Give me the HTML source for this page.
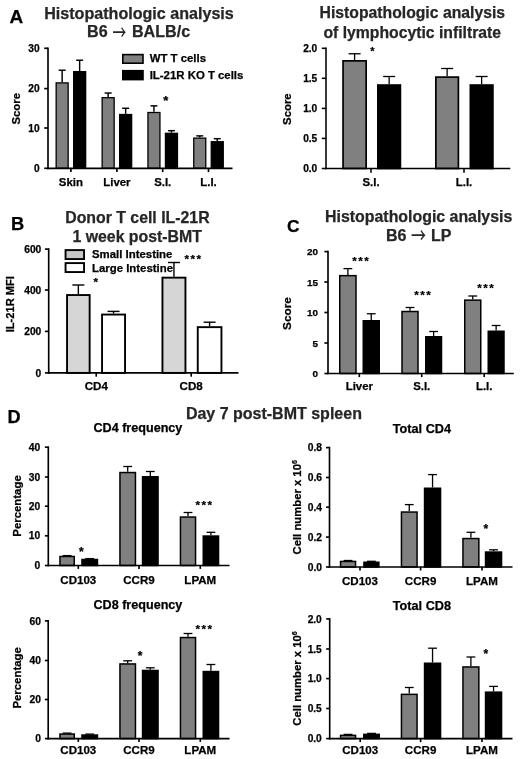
<!DOCTYPE html>
<html lang="en"><head><meta charset="utf-8"><title>Figure</title>
<style>
html,body{margin:0;padding:0;background:#fff;}
body{width:520px;height:759px;overflow:hidden;}
svg{display:block;font-family:"Liberation Sans", Arial, Helvetica, sans-serif;}
</style></head><body>
<svg width="520" height="759" viewBox="0 0 520 759">
<defs><pattern id="dots" width="2" height="2" patternUnits="userSpaceOnUse"><rect width="2" height="2" fill="#dcdcdc"/><rect width="1" height="1" fill="#c4c4c4"/></pattern></defs>
<rect width="520" height="759" fill="#fff"/>
<text x="9.5" y="22.5" font-size="19" text-anchor="start" fill="#000" stroke="#000" stroke-width="0.25" font-weight="bold">A</text>
<text x="139.0" y="18.8" font-size="16.1" text-anchor="middle" fill="#262626" stroke="#262626" stroke-width="0.25" font-weight="bold">Histopathologic analysis</text>
<text x="107.6" y="36.9" font-size="16.1" text-anchor="end" fill="#262626" stroke="#262626" stroke-width="0.25" font-weight="bold">B6</text>
<text transform="translate(112.55 39.83) scale(0.667 1)" font-family="'Noto Sans CJK SC', 'DejaVu Sans', sans-serif" font-weight="500" font-size="20.6" fill="#262626">→</text>
<text x="132.0" y="36.9" font-size="16.1" text-anchor="start" fill="#262626" stroke="#262626" stroke-width="0.25" font-weight="bold">BALB/c</text>
<line x1="62.150000000000006" y1="82.24" x2="62.150000000000006" y2="70.23" stroke="#000" stroke-width="1.45"/>
<line x1="58.650000000000006" y1="70.23" x2="65.65" y2="70.23" stroke="#000" stroke-width="1.45"/>
<rect x="56.15" y="82.89" width="12.0" height="85.41" fill="#808080" stroke="#000" stroke-width="1.3"/>
<line x1="79.65" y1="71.03" x2="79.65" y2="60.22" stroke="#000" stroke-width="1.45"/>
<line x1="76.15" y1="60.22" x2="83.15" y2="60.22" stroke="#000" stroke-width="1.45"/>
<rect x="73.65" y="71.68" width="12.0" height="96.62" fill="#000" stroke="#000" stroke-width="1.3"/>
<line x1="108.15" y1="97.05" x2="108.15" y2="93.04" stroke="#000" stroke-width="1.45"/>
<line x1="104.65" y1="93.04" x2="111.65" y2="93.04" stroke="#000" stroke-width="1.45"/>
<rect x="102.15" y="97.7" width="12.0" height="70.6" fill="#808080" stroke="#000" stroke-width="1.3"/>
<line x1="125.65" y1="113.86" x2="125.65" y2="108.26" stroke="#000" stroke-width="1.45"/>
<line x1="122.15" y1="108.26" x2="129.15" y2="108.26" stroke="#000" stroke-width="1.45"/>
<rect x="119.65" y="114.51" width="12.0" height="53.79" fill="#000" stroke="#000" stroke-width="1.3"/>
<line x1="153.95" y1="111.86" x2="153.95" y2="105.85" stroke="#000" stroke-width="1.45"/>
<line x1="150.45" y1="105.85" x2="157.45" y2="105.85" stroke="#000" stroke-width="1.45"/>
<rect x="147.95" y="112.51" width="12.0" height="55.79" fill="#808080" stroke="#000" stroke-width="1.3"/>
<line x1="171.45" y1="132.67" x2="171.45" y2="130.67" stroke="#000" stroke-width="1.45"/>
<line x1="167.95" y1="130.67" x2="174.95" y2="130.67" stroke="#000" stroke-width="1.45"/>
<rect x="165.45" y="133.32" width="12.0" height="34.98" fill="#000" stroke="#000" stroke-width="1.3"/>
<line x1="199.75" y1="137.48" x2="199.75" y2="135.88" stroke="#000" stroke-width="1.45"/>
<line x1="196.25" y1="135.88" x2="203.25" y2="135.88" stroke="#000" stroke-width="1.45"/>
<rect x="193.75" y="138.13" width="12.0" height="30.17" fill="#808080" stroke="#000" stroke-width="1.3"/>
<line x1="217.25" y1="141.08" x2="217.25" y2="138.68" stroke="#000" stroke-width="1.45"/>
<line x1="213.75" y1="138.68" x2="220.75" y2="138.68" stroke="#000" stroke-width="1.45"/>
<rect x="211.25" y="141.73" width="12.0" height="26.57" fill="#000" stroke="#000" stroke-width="1.3"/>
<line x1="48.0" y1="47.474999999999994" x2="48.0" y2="169.125" stroke="#000" stroke-width="1.65"/>
<line x1="47.175" y1="168.3" x2="232.5" y2="168.3" stroke="#000" stroke-width="1.65"/>
<line x1="44.2" y1="48.3" x2="48.0" y2="48.3" stroke="#000" stroke-width="1.65"/>
<text x="39.6" y="51.95" font-size="10.2" text-anchor="end" fill="#000" stroke="#000" stroke-width="0.25" font-weight="bold">30</text>
<line x1="44.2" y1="88.6" x2="48.0" y2="88.6" stroke="#000" stroke-width="1.65"/>
<text x="39.6" y="92.25" font-size="10.2" text-anchor="end" fill="#000" stroke="#000" stroke-width="0.25" font-weight="bold">20</text>
<line x1="44.2" y1="128.0" x2="48.0" y2="128.0" stroke="#000" stroke-width="1.65"/>
<text x="39.6" y="131.65" font-size="10.2" text-anchor="end" fill="#000" stroke="#000" stroke-width="0.25" font-weight="bold">10</text>
<line x1="44.2" y1="168.3" x2="48.0" y2="168.3" stroke="#000" stroke-width="1.65"/>
<text x="39.6" y="171.95" font-size="10.2" text-anchor="end" fill="#000" stroke="#000" stroke-width="0.25" font-weight="bold">0</text>
<line x1="70.9" y1="168.3" x2="70.9" y2="172.10000000000002" stroke="#000" stroke-width="1.65"/>
<text x="70.9" y="186.2" font-size="11.4" text-anchor="middle" fill="#000" stroke="#000" stroke-width="0.25" font-weight="bold">Skin</text>
<line x1="116.9" y1="168.3" x2="116.9" y2="172.10000000000002" stroke="#000" stroke-width="1.65"/>
<text x="116.9" y="186.2" font-size="11.4" text-anchor="middle" fill="#000" stroke="#000" stroke-width="0.25" font-weight="bold">Liver</text>
<line x1="162.7" y1="168.3" x2="162.7" y2="172.10000000000002" stroke="#000" stroke-width="1.65"/>
<text x="162.7" y="186.2" font-size="11.4" text-anchor="middle" fill="#000" stroke="#000" stroke-width="0.25" font-weight="bold">S.I.</text>
<line x1="208.5" y1="168.3" x2="208.5" y2="172.10000000000002" stroke="#000" stroke-width="1.65"/>
<text x="208.5" y="186.2" font-size="11.4" text-anchor="middle" fill="#000" stroke="#000" stroke-width="0.25" font-weight="bold">L.I.</text>
<text x="19.6" y="108.75" font-size="11.4" text-anchor="middle" fill="#000" stroke="#000" stroke-width="0.25" font-weight="bold" transform="rotate(-90 19.6 108.75)">Score</text>
<rect x="122.8" y="54.6" width="20.2" height="8.6" fill="#808080" stroke="#000" stroke-width="1.6"/>
<text x="149.7" y="62.3" font-size="11.4" text-anchor="start" fill="#000" stroke="#000" stroke-width="0.25" font-weight="bold">WT T cells</text>
<rect x="122.8" y="70.7" width="20.2" height="8.9" fill="#000" stroke="#000" stroke-width="1.6"/>
<text x="149.7" y="79.3" font-size="11.4" text-anchor="start" fill="#000" stroke="#000" stroke-width="0.25" font-weight="bold">IL-21R KO T cells</text>
<text x="165.75" y="105.25" font-size="13" text-anchor="middle" fill="#000" stroke="#000" stroke-width="0.25" font-weight="bold">*</text>
<text x="412.3" y="18.2" font-size="15.75" text-anchor="middle" fill="#262626" stroke="#262626" stroke-width="0.25" font-weight="bold">Histopathologic analysis</text>
<text x="412.3" y="37.6" font-size="15.75" text-anchor="middle" fill="#262626" stroke="#262626" stroke-width="0.25" font-weight="bold">of lymphocytic infiltrate</text>
<line x1="354.6" y1="60" x2="354.6" y2="53.75" stroke="#000" stroke-width="1.3"/>
<line x1="348.6" y1="53.75" x2="360.6" y2="53.75" stroke="#000" stroke-width="1.3"/>
<rect x="343.05" y="60.85" width="23.1" height="107.65" fill="#808080" stroke="#000" stroke-width="1.7"/>
<line x1="389.125" y1="84.2" x2="389.125" y2="76.5" stroke="#000" stroke-width="1.3"/>
<line x1="383.125" y1="76.5" x2="395.125" y2="76.5" stroke="#000" stroke-width="1.3"/>
<rect x="377.85" y="85.05" width="22.55" height="83.45" fill="#000" stroke="#000" stroke-width="1.7"/>
<line x1="447.125" y1="76.25" x2="447.125" y2="68.5" stroke="#000" stroke-width="1.3"/>
<line x1="441.125" y1="68.5" x2="453.125" y2="68.5" stroke="#000" stroke-width="1.3"/>
<rect x="435.85" y="77.1" width="22.55" height="91.4" fill="#808080" stroke="#000" stroke-width="1.7"/>
<line x1="481.625" y1="84.2" x2="481.625" y2="76.5" stroke="#000" stroke-width="1.3"/>
<line x1="475.625" y1="76.5" x2="487.625" y2="76.5" stroke="#000" stroke-width="1.3"/>
<rect x="470.35" y="85.05" width="22.55" height="83.45" fill="#000" stroke="#000" stroke-width="1.7"/>
<line x1="326" y1="47.525" x2="326" y2="169.275" stroke="#000" stroke-width="1.55"/>
<line x1="325.225" y1="168.5" x2="510.3" y2="168.5" stroke="#000" stroke-width="1.55"/>
<line x1="321.8" y1="48.3" x2="326" y2="48.3" stroke="#000" stroke-width="1.55"/>
<text x="317.3" y="51.95" font-size="10.2" text-anchor="end" fill="#000" stroke="#000" stroke-width="0.25" font-weight="bold">2.0</text>
<line x1="321.8" y1="78.3" x2="326" y2="78.3" stroke="#000" stroke-width="1.55"/>
<text x="317.3" y="81.95" font-size="10.2" text-anchor="end" fill="#000" stroke="#000" stroke-width="0.25" font-weight="bold">1.5</text>
<line x1="321.8" y1="108.4" x2="326" y2="108.4" stroke="#000" stroke-width="1.55"/>
<text x="317.3" y="112.05" font-size="10.2" text-anchor="end" fill="#000" stroke="#000" stroke-width="0.25" font-weight="bold">1.0</text>
<line x1="321.8" y1="138.4" x2="326" y2="138.4" stroke="#000" stroke-width="1.55"/>
<text x="317.3" y="142.05" font-size="10.2" text-anchor="end" fill="#000" stroke="#000" stroke-width="0.25" font-weight="bold">0.5</text>
<line x1="321.8" y1="168.5" x2="326" y2="168.5" stroke="#000" stroke-width="1.55"/>
<text x="317.3" y="172.15" font-size="10.2" text-anchor="end" fill="#000" stroke="#000" stroke-width="0.25" font-weight="bold">0.0</text>
<line x1="371" y1="168.5" x2="371" y2="172.7" stroke="#000" stroke-width="1.55"/>
<text x="371" y="186" font-size="11.4" text-anchor="middle" fill="#000" stroke="#000" stroke-width="0.25" font-weight="bold">S.I.</text>
<line x1="464" y1="168.5" x2="464" y2="172.7" stroke="#000" stroke-width="1.55"/>
<text x="464" y="186" font-size="11.4" text-anchor="middle" fill="#000" stroke="#000" stroke-width="0.25" font-weight="bold">L.I.</text>
<text x="372.5" y="54.75" font-size="11" text-anchor="middle" fill="#000" stroke="#000" stroke-width="0.25" font-weight="bold">*</text>
<text x="290.6" y="109.1" font-size="11.4" text-anchor="middle" fill="#000" stroke="#000" stroke-width="0.25" font-weight="bold" transform="rotate(-90 290.6 109.1)">Score</text>
<text x="11.1" y="230" font-size="18.3" text-anchor="start" fill="#000" stroke="#000" stroke-width="0.25" font-weight="bold">B</text>
<text x="137.4" y="222.7" font-size="15.85" text-anchor="middle" fill="#262626" stroke="#262626" stroke-width="0.25" font-weight="bold">Donor T cell IL-21R</text>
<text x="137.2" y="242.1" font-size="15.85" text-anchor="middle" fill="#262626" stroke="#262626" stroke-width="0.25" font-weight="bold">1 week post-BMT</text>
<line x1="78.35" y1="294.1" x2="78.35" y2="285" stroke="#000" stroke-width="1.4"/>
<line x1="72.35" y1="285" x2="84.35" y2="285" stroke="#000" stroke-width="1.4"/>
<rect x="67.05" y="295.05" width="22.6" height="77.85" fill="#d6d6d6" stroke="#000" stroke-width="1.9"/>
<line x1="113.55" y1="313.6" x2="113.55" y2="311.4" stroke="#000" stroke-width="1.4"/>
<line x1="107.55" y1="311.4" x2="119.55" y2="311.4" stroke="#000" stroke-width="1.4"/>
<rect x="102.05" y="314.55" width="23.0" height="58.35" fill="#fff" stroke="#000" stroke-width="1.9"/>
<line x1="173.95" y1="276.7" x2="173.95" y2="262.5" stroke="#000" stroke-width="1.4"/>
<line x1="167.95" y1="262.5" x2="179.95" y2="262.5" stroke="#000" stroke-width="1.4"/>
<rect x="162.45" y="277.65" width="23.0" height="95.25" fill="#d6d6d6" stroke="#000" stroke-width="1.9"/>
<line x1="209.60000000000002" y1="326.2" x2="209.60000000000002" y2="322.2" stroke="#000" stroke-width="1.4"/>
<line x1="203.60000000000002" y1="322.2" x2="215.60000000000002" y2="322.2" stroke="#000" stroke-width="1.4"/>
<rect x="197.75" y="327.15" width="23.7" height="45.75" fill="#fff" stroke="#000" stroke-width="1.9"/>
<line x1="48.7" y1="248.275" x2="48.7" y2="373.72499999999997" stroke="#000" stroke-width="1.65"/>
<line x1="47.875" y1="372.9" x2="238.5" y2="372.9" stroke="#000" stroke-width="1.65"/>
<line x1="44.900000000000006" y1="249.1" x2="48.7" y2="249.1" stroke="#000" stroke-width="1.65"/>
<text x="41.3" y="252.77" font-size="10.25" text-anchor="end" fill="#000" stroke="#000" stroke-width="0.25" font-weight="bold">600</text>
<line x1="44.900000000000006" y1="290" x2="48.7" y2="290" stroke="#000" stroke-width="1.65"/>
<text x="41.3" y="293.67" font-size="10.25" text-anchor="end" fill="#000" stroke="#000" stroke-width="0.25" font-weight="bold">400</text>
<line x1="44.900000000000006" y1="331.4" x2="48.7" y2="331.4" stroke="#000" stroke-width="1.65"/>
<text x="41.3" y="335.07" font-size="10.25" text-anchor="end" fill="#000" stroke="#000" stroke-width="0.25" font-weight="bold">200</text>
<line x1="44.900000000000006" y1="372.9" x2="48.7" y2="372.9" stroke="#000" stroke-width="1.65"/>
<text x="41.3" y="376.57" font-size="10.25" text-anchor="end" fill="#000" stroke="#000" stroke-width="0.25" font-weight="bold">0</text>
<line x1="96.25" y1="372.9" x2="96.25" y2="376.7" stroke="#000" stroke-width="1.65"/>
<text x="96.25" y="389.6" font-size="11.6" text-anchor="middle" fill="#000" stroke="#000" stroke-width="0.25" font-weight="bold">CD4</text>
<line x1="191.2" y1="372.9" x2="191.2" y2="376.7" stroke="#000" stroke-width="1.65"/>
<text x="191.2" y="389.6" font-size="11.6" text-anchor="middle" fill="#000" stroke="#000" stroke-width="0.25" font-weight="bold">CD8</text>
<text x="13.6" y="304.2" font-size="11.1" text-anchor="middle" fill="#000" stroke="#000" stroke-width="0.25" font-weight="bold" transform="rotate(-90 13.6 304.2)">IL-21R MFI</text>
<rect x="65.55" y="250.1" width="18.5" height="8.95" fill="#c6c6c6" stroke="#000" stroke-width="1.9"/>
<text x="92" y="258.3" font-size="11.4" text-anchor="start" fill="#000" stroke="#000" stroke-width="0.25" font-weight="bold">Small Intestine</text>
<rect x="65.55" y="263.1" width="18.5" height="8.95" fill="#fff" stroke="#000" stroke-width="1.9"/>
<text x="92" y="272" font-size="11.4" text-anchor="start" fill="#000" stroke="#000" stroke-width="0.25" font-weight="bold">Large Intestine</text>
<text x="95.75" y="286.2" font-size="11.5" text-anchor="middle" fill="#000" stroke="#000" stroke-width="0.25" font-weight="bold">*</text>
<text x="193.5" y="262.5" font-size="11.6" text-anchor="middle" fill="#000" stroke="#000" stroke-width="0.25" font-weight="bold" letter-spacing="1.5">***</text>
<text x="287" y="231.7" font-size="17.4" text-anchor="start" fill="#000" stroke="#000" stroke-width="0.25" font-weight="bold">C</text>
<text x="418.7" y="221.8" font-size="15.9" text-anchor="middle" fill="#262626" stroke="#262626" stroke-width="0.25" font-weight="bold">Histopathologic analysis</text>
<text x="406.4" y="241.4" font-size="16" text-anchor="end" fill="#262626" stroke="#262626" stroke-width="0.25" font-weight="bold">B6</text>
<text transform="translate(411.10 243.33) scale(0.731 1)" font-family="'Noto Sans CJK SC', 'DejaVu Sans', sans-serif" font-weight="500" font-size="20.6" fill="#262626">→</text>
<text x="431" y="241.4" font-size="16" text-anchor="start" fill="#262626" stroke="#262626" stroke-width="0.25" font-weight="bold">LP</text>
<line x1="347.875" y1="274.9" x2="347.875" y2="268.6" stroke="#000" stroke-width="1.3"/>
<line x1="343.475" y1="268.6" x2="352.275" y2="268.6" stroke="#000" stroke-width="1.3"/>
<rect x="339.75" y="275.65" width="16.25" height="97.85" fill="#808080" stroke="#000" stroke-width="1.5"/>
<line x1="371.25" y1="320" x2="371.25" y2="313.75" stroke="#000" stroke-width="1.3"/>
<line x1="366.85" y1="313.75" x2="375.65" y2="313.75" stroke="#000" stroke-width="1.3"/>
<rect x="363.25" y="320.75" width="16.0" height="52.75" fill="#000" stroke="#000" stroke-width="1.5"/>
<line x1="410.0" y1="310.75" x2="410.0" y2="307.5" stroke="#000" stroke-width="1.3"/>
<line x1="405.6" y1="307.5" x2="414.4" y2="307.5" stroke="#000" stroke-width="1.3"/>
<rect x="402.0" y="311.5" width="16.0" height="62.0" fill="#808080" stroke="#000" stroke-width="1.5"/>
<line x1="433.625" y1="336" x2="433.625" y2="331.5" stroke="#000" stroke-width="1.3"/>
<line x1="429.225" y1="331.5" x2="438.025" y2="331.5" stroke="#000" stroke-width="1.3"/>
<rect x="425.75" y="336.75" width="15.75" height="36.75" fill="#000" stroke="#000" stroke-width="1.5"/>
<line x1="472.75" y1="299.4" x2="472.75" y2="296" stroke="#000" stroke-width="1.3"/>
<line x1="468.35" y1="296" x2="477.15" y2="296" stroke="#000" stroke-width="1.3"/>
<rect x="464.75" y="300.15" width="16.0" height="73.35" fill="#808080" stroke="#000" stroke-width="1.5"/>
<line x1="496.125" y1="330.5" x2="496.125" y2="325.5" stroke="#000" stroke-width="1.3"/>
<line x1="491.725" y1="325.5" x2="500.525" y2="325.5" stroke="#000" stroke-width="1.3"/>
<rect x="488.25" y="331.25" width="15.75" height="42.25" fill="#000" stroke="#000" stroke-width="1.5"/>
<line x1="328" y1="250.775" x2="328" y2="374.325" stroke="#000" stroke-width="1.65"/>
<line x1="327.175" y1="373.5" x2="513.8" y2="373.5" stroke="#000" stroke-width="1.65"/>
<line x1="324.4" y1="251.6" x2="328" y2="251.6" stroke="#000" stroke-width="1.65"/>
<text x="317.9" y="255.14" font-size="9.9" text-anchor="end" fill="#000" stroke="#000" stroke-width="0.25" font-weight="bold">20</text>
<line x1="324.4" y1="282" x2="328" y2="282" stroke="#000" stroke-width="1.65"/>
<text x="317.9" y="285.54" font-size="9.9" text-anchor="end" fill="#000" stroke="#000" stroke-width="0.25" font-weight="bold">15</text>
<line x1="324.4" y1="312.5" x2="328" y2="312.5" stroke="#000" stroke-width="1.65"/>
<text x="317.9" y="316.04" font-size="9.9" text-anchor="end" fill="#000" stroke="#000" stroke-width="0.25" font-weight="bold">10</text>
<line x1="324.4" y1="343" x2="328" y2="343" stroke="#000" stroke-width="1.65"/>
<text x="317.9" y="346.54" font-size="9.9" text-anchor="end" fill="#000" stroke="#000" stroke-width="0.25" font-weight="bold">5</text>
<line x1="324.4" y1="373.5" x2="328" y2="373.5" stroke="#000" stroke-width="1.65"/>
<text x="317.9" y="377.04" font-size="9.9" text-anchor="end" fill="#000" stroke="#000" stroke-width="0.25" font-weight="bold">0</text>
<line x1="359.3" y1="373.5" x2="359.3" y2="377.1" stroke="#000" stroke-width="1.65"/>
<text x="359.3" y="390.2" font-size="11.4" text-anchor="middle" fill="#000" stroke="#000" stroke-width="0.25" font-weight="bold">Liver</text>
<line x1="421.7" y1="373.5" x2="421.7" y2="377.1" stroke="#000" stroke-width="1.65"/>
<text x="421.7" y="390.2" font-size="11.4" text-anchor="middle" fill="#000" stroke="#000" stroke-width="0.25" font-weight="bold">S.I.</text>
<line x1="484.2" y1="373.5" x2="484.2" y2="377.1" stroke="#000" stroke-width="1.65"/>
<text x="484.2" y="390.2" font-size="11.4" text-anchor="middle" fill="#000" stroke="#000" stroke-width="0.25" font-weight="bold">L.I.</text>
<text x="291" y="313.5" font-size="11.8" text-anchor="middle" fill="#000" stroke="#000" stroke-width="0.25" font-weight="bold" transform="rotate(-90 291 313.5)">Score</text>
<text x="361.35" y="265.0" font-size="11.6" text-anchor="middle" fill="#000" stroke="#000" stroke-width="0.25" font-weight="bold" letter-spacing="1.5">***</text>
<text x="423.25" y="298.75" font-size="11.6" text-anchor="middle" fill="#000" stroke="#000" stroke-width="0.25" font-weight="bold" letter-spacing="1.5">***</text>
<text x="486.15" y="292.0" font-size="11.6" text-anchor="middle" fill="#000" stroke="#000" stroke-width="0.25" font-weight="bold" letter-spacing="1.5">***</text>
<text x="7.6" y="423.3" font-size="18.1" text-anchor="start" fill="#000" stroke="#000" stroke-width="0.25" font-weight="bold">D</text>
<text x="273.9" y="419" font-size="16" text-anchor="middle" fill="#262626" stroke="#262626" stroke-width="0.25" font-weight="bold">Day 7 post-BMT spleen</text>
<text x="137.9" y="432.4" font-size="12.6" text-anchor="middle" fill="#000" stroke="#000" stroke-width="0.25" font-weight="bold">CD4 frequency</text>
<line x1="67.1" y1="555.75" x2="67.1" y2="555.6" stroke="#000" stroke-width="1.3"/>
<line x1="62.699999999999996" y1="555.6" x2="71.5" y2="555.6" stroke="#000" stroke-width="1.3"/>
<rect x="59.95" y="556.5" width="14.3" height="9.0" fill="#808080" stroke="#000" stroke-width="1.5"/>
<line x1="89.7" y1="558.75" x2="89.7" y2="558.6" stroke="#000" stroke-width="1.3"/>
<line x1="85.3" y1="558.6" x2="94.10000000000001" y2="558.6" stroke="#000" stroke-width="1.3"/>
<rect x="81.95" y="559.5" width="15.5" height="6.0" fill="#000" stroke="#000" stroke-width="1.5"/>
<line x1="127.69999999999999" y1="471.8" x2="127.69999999999999" y2="466.5" stroke="#000" stroke-width="1.3"/>
<line x1="123.29999999999998" y1="466.5" x2="132.1" y2="466.5" stroke="#000" stroke-width="1.3"/>
<rect x="119.95" y="472.55" width="15.5" height="92.95" fill="#808080" stroke="#000" stroke-width="1.5"/>
<line x1="150.3" y1="476" x2="150.3" y2="471.5" stroke="#000" stroke-width="1.3"/>
<line x1="145.9" y1="471.5" x2="154.70000000000002" y2="471.5" stroke="#000" stroke-width="1.3"/>
<rect x="142.55" y="476.75" width="15.5" height="88.75" fill="#000" stroke="#000" stroke-width="1.5"/>
<line x1="188.0" y1="516.3" x2="188.0" y2="512.5" stroke="#000" stroke-width="1.3"/>
<line x1="183.6" y1="512.5" x2="192.4" y2="512.5" stroke="#000" stroke-width="1.3"/>
<rect x="180.45" y="517.05" width="15.1" height="48.45" fill="#808080" stroke="#000" stroke-width="1.5"/>
<line x1="210.9" y1="535.3" x2="210.9" y2="532.3" stroke="#000" stroke-width="1.3"/>
<line x1="206.5" y1="532.3" x2="215.3" y2="532.3" stroke="#000" stroke-width="1.3"/>
<rect x="203.25" y="536.05" width="15.3" height="29.45" fill="#000" stroke="#000" stroke-width="1.5"/>
<line x1="48.3" y1="446.375" x2="48.3" y2="566.325" stroke="#000" stroke-width="1.65"/>
<line x1="47.474999999999994" y1="565.5" x2="229.5" y2="565.5" stroke="#000" stroke-width="1.65"/>
<line x1="44.9" y1="447.2" x2="48.3" y2="447.2" stroke="#000" stroke-width="1.65"/>
<text x="40.3" y="450.89" font-size="10.3" text-anchor="end" fill="#000" stroke="#000" stroke-width="0.25" font-weight="bold">40</text>
<line x1="44.9" y1="477" x2="48.3" y2="477" stroke="#000" stroke-width="1.65"/>
<text x="40.3" y="480.69" font-size="10.3" text-anchor="end" fill="#000" stroke="#000" stroke-width="0.25" font-weight="bold">30</text>
<line x1="44.9" y1="506.2" x2="48.3" y2="506.2" stroke="#000" stroke-width="1.65"/>
<text x="40.3" y="509.89" font-size="10.3" text-anchor="end" fill="#000" stroke="#000" stroke-width="0.25" font-weight="bold">20</text>
<line x1="44.9" y1="535.8" x2="48.3" y2="535.8" stroke="#000" stroke-width="1.65"/>
<text x="40.3" y="539.49" font-size="10.3" text-anchor="end" fill="#000" stroke="#000" stroke-width="0.25" font-weight="bold">10</text>
<line x1="44.9" y1="565.5" x2="48.3" y2="565.5" stroke="#000" stroke-width="1.65"/>
<text x="40.3" y="569.19" font-size="10.3" text-anchor="end" fill="#000" stroke="#000" stroke-width="0.25" font-weight="bold">0</text>
<line x1="78.3" y1="565.5" x2="78.3" y2="568.9" stroke="#000" stroke-width="1.65"/>
<text x="78.3" y="584.2" font-size="11.55" text-anchor="middle" fill="#000" stroke="#000" stroke-width="0.25" font-weight="bold">CD103</text>
<line x1="139" y1="565.5" x2="139" y2="568.9" stroke="#000" stroke-width="1.65"/>
<text x="139" y="584.2" font-size="11.55" text-anchor="middle" fill="#000" stroke="#000" stroke-width="0.25" font-weight="bold">CCR9</text>
<line x1="200.3" y1="565.5" x2="200.3" y2="568.9" stroke="#000" stroke-width="1.65"/>
<text x="200.3" y="584.2" font-size="11.55" text-anchor="middle" fill="#000" stroke="#000" stroke-width="0.25" font-weight="bold">LPAM</text>
<text x="21.2" y="506" font-size="11.4" text-anchor="middle" fill="#000" stroke="#000" stroke-width="0.25" font-weight="bold" transform="rotate(-90 21.2 506)">Percentage</text>
<text x="81.25" y="556.04" font-size="12" text-anchor="middle" fill="#000" stroke="#000" stroke-width="0.25" font-weight="bold">*</text>
<text x="204.5" y="508.75" font-size="11.6" text-anchor="middle" fill="#000" stroke="#000" stroke-width="0.25" font-weight="bold" letter-spacing="1.5">***</text>
<text x="421.9" y="432.8" font-size="12.7" text-anchor="middle" fill="#000" stroke="#000" stroke-width="0.25" font-weight="bold">Total CD4</text>
<line x1="348.05" y1="560.7" x2="348.05" y2="560.5" stroke="#000" stroke-width="1.3"/>
<line x1="343.65000000000003" y1="560.5" x2="352.45" y2="560.5" stroke="#000" stroke-width="1.3"/>
<rect x="340.55" y="561.45" width="15.0" height="5.55" fill="#808080" stroke="#000" stroke-width="1.5"/>
<line x1="371.4" y1="561.5" x2="371.4" y2="561.3" stroke="#000" stroke-width="1.3"/>
<line x1="367.0" y1="561.3" x2="375.79999999999995" y2="561.3" stroke="#000" stroke-width="1.3"/>
<rect x="363.95" y="562.25" width="14.9" height="4.75" fill="#000" stroke="#000" stroke-width="1.5"/>
<line x1="409.25" y1="511.3" x2="409.25" y2="504.6" stroke="#000" stroke-width="1.3"/>
<line x1="404.85" y1="504.6" x2="413.65" y2="504.6" stroke="#000" stroke-width="1.3"/>
<rect x="401.45" y="512.05" width="15.6" height="54.95" fill="#808080" stroke="#000" stroke-width="1.5"/>
<line x1="432.55" y1="487.5" x2="432.55" y2="474.6" stroke="#000" stroke-width="1.3"/>
<line x1="428.15000000000003" y1="474.6" x2="436.95" y2="474.6" stroke="#000" stroke-width="1.3"/>
<rect x="424.55" y="488.25" width="16.0" height="78.75" fill="#000" stroke="#000" stroke-width="1.5"/>
<line x1="470.9" y1="537.8" x2="470.9" y2="532.3" stroke="#000" stroke-width="1.3"/>
<line x1="466.5" y1="532.3" x2="475.29999999999995" y2="532.3" stroke="#000" stroke-width="1.3"/>
<rect x="462.95" y="538.55" width="15.9" height="28.45" fill="#808080" stroke="#000" stroke-width="1.5"/>
<line x1="493.55" y1="551.3" x2="493.55" y2="549.8" stroke="#000" stroke-width="1.3"/>
<line x1="489.15000000000003" y1="549.8" x2="497.95" y2="549.8" stroke="#000" stroke-width="1.3"/>
<rect x="485.55" y="552.05" width="16.0" height="14.95" fill="#000" stroke="#000" stroke-width="1.5"/>
<line x1="329.5" y1="446.77500000000003" x2="329.5" y2="567.825" stroke="#000" stroke-width="1.65"/>
<line x1="328.675" y1="567" x2="512.5" y2="567" stroke="#000" stroke-width="1.65"/>
<line x1="326.0" y1="447.6" x2="329.5" y2="447.6" stroke="#000" stroke-width="1.65"/>
<text x="322.0" y="451.29" font-size="10.3" text-anchor="end" fill="#000" stroke="#000" stroke-width="0.25" font-weight="bold">0.8</text>
<line x1="326.0" y1="477.5" x2="329.5" y2="477.5" stroke="#000" stroke-width="1.65"/>
<text x="322.0" y="481.19" font-size="10.3" text-anchor="end" fill="#000" stroke="#000" stroke-width="0.25" font-weight="bold">0.6</text>
<line x1="326.0" y1="507.2" x2="329.5" y2="507.2" stroke="#000" stroke-width="1.65"/>
<text x="322.0" y="510.89" font-size="10.3" text-anchor="end" fill="#000" stroke="#000" stroke-width="0.25" font-weight="bold">0.4</text>
<line x1="326.0" y1="537.1" x2="329.5" y2="537.1" stroke="#000" stroke-width="1.65"/>
<text x="322.0" y="540.79" font-size="10.3" text-anchor="end" fill="#000" stroke="#000" stroke-width="0.25" font-weight="bold">0.2</text>
<line x1="326.0" y1="567" x2="329.5" y2="567" stroke="#000" stroke-width="1.65"/>
<text x="322.0" y="570.69" font-size="10.3" text-anchor="end" fill="#000" stroke="#000" stroke-width="0.25" font-weight="bold">0.0</text>
<line x1="360" y1="567" x2="360" y2="570.5" stroke="#000" stroke-width="1.65"/>
<text x="360" y="584.5" font-size="11.55" text-anchor="middle" fill="#000" stroke="#000" stroke-width="0.25" font-weight="bold">CD103</text>
<line x1="420.6" y1="567" x2="420.6" y2="570.5" stroke="#000" stroke-width="1.65"/>
<text x="420.6" y="584.5" font-size="11.55" text-anchor="middle" fill="#000" stroke="#000" stroke-width="0.25" font-weight="bold">CCR9</text>
<line x1="482" y1="567" x2="482" y2="570.5" stroke="#000" stroke-width="1.65"/>
<text x="482" y="584.5" font-size="11.55" text-anchor="middle" fill="#000" stroke="#000" stroke-width="0.25" font-weight="bold">LPAM</text>
<text x="300.6" y="507.3" font-size="11.3" text-anchor="middle" fill="#000" stroke="#000" stroke-width="0.25" font-weight="bold" transform="rotate(-90 300.6 507.3)">Cell number x 10<tspan font-size="7" dy="-4">6</tspan></text>
<text x="485.75" y="533.19" font-size="12" text-anchor="middle" fill="#000" stroke="#000" stroke-width="0.25" font-weight="bold">*</text>
<text x="137.9" y="608.8" font-size="12.6" text-anchor="middle" fill="#000" stroke="#000" stroke-width="0.25" font-weight="bold">CD8 frequency</text>
<line x1="67.1" y1="733.3" x2="67.1" y2="733.1" stroke="#000" stroke-width="1.3"/>
<line x1="62.699999999999996" y1="733.1" x2="71.5" y2="733.1" stroke="#000" stroke-width="1.3"/>
<rect x="59.95" y="734.05" width="14.3" height="4.55" fill="#808080" stroke="#000" stroke-width="1.5"/>
<line x1="89.7" y1="734.3" x2="89.7" y2="734.1" stroke="#000" stroke-width="1.3"/>
<line x1="85.3" y1="734.1" x2="94.10000000000001" y2="734.1" stroke="#000" stroke-width="1.3"/>
<rect x="81.95" y="735.05" width="15.5" height="3.55" fill="#000" stroke="#000" stroke-width="1.5"/>
<line x1="127.69999999999999" y1="663.2" x2="127.69999999999999" y2="660.8" stroke="#000" stroke-width="1.3"/>
<line x1="123.29999999999998" y1="660.8" x2="132.1" y2="660.8" stroke="#000" stroke-width="1.3"/>
<rect x="119.95" y="663.95" width="15.5" height="74.65" fill="#808080" stroke="#000" stroke-width="1.5"/>
<line x1="150.3" y1="669.7" x2="150.3" y2="667.8" stroke="#000" stroke-width="1.3"/>
<line x1="145.9" y1="667.8" x2="154.70000000000002" y2="667.8" stroke="#000" stroke-width="1.3"/>
<rect x="142.55" y="670.45" width="15.5" height="68.15" fill="#000" stroke="#000" stroke-width="1.5"/>
<line x1="188.0" y1="636.8" x2="188.0" y2="633.5" stroke="#000" stroke-width="1.3"/>
<line x1="183.6" y1="633.5" x2="192.4" y2="633.5" stroke="#000" stroke-width="1.3"/>
<rect x="180.45" y="637.55" width="15.1" height="101.05" fill="#808080" stroke="#000" stroke-width="1.5"/>
<line x1="210.9" y1="670.8" x2="210.9" y2="664.5" stroke="#000" stroke-width="1.3"/>
<line x1="206.5" y1="664.5" x2="215.3" y2="664.5" stroke="#000" stroke-width="1.3"/>
<rect x="203.25" y="671.55" width="15.3" height="67.05" fill="#000" stroke="#000" stroke-width="1.5"/>
<line x1="48.2" y1="620.0749999999999" x2="48.2" y2="739.4250000000001" stroke="#000" stroke-width="1.65"/>
<line x1="47.375" y1="738.6" x2="229.5" y2="738.6" stroke="#000" stroke-width="1.65"/>
<line x1="44.900000000000006" y1="620.9" x2="48.2" y2="620.9" stroke="#000" stroke-width="1.65"/>
<text x="40.9" y="624.59" font-size="10.3" text-anchor="end" fill="#000" stroke="#000" stroke-width="0.25" font-weight="bold">60</text>
<line x1="44.900000000000006" y1="660.5" x2="48.2" y2="660.5" stroke="#000" stroke-width="1.65"/>
<text x="40.9" y="664.19" font-size="10.3" text-anchor="end" fill="#000" stroke="#000" stroke-width="0.25" font-weight="bold">40</text>
<line x1="44.900000000000006" y1="699.5" x2="48.2" y2="699.5" stroke="#000" stroke-width="1.65"/>
<text x="40.9" y="703.19" font-size="10.3" text-anchor="end" fill="#000" stroke="#000" stroke-width="0.25" font-weight="bold">20</text>
<line x1="44.900000000000006" y1="738.6" x2="48.2" y2="738.6" stroke="#000" stroke-width="1.65"/>
<text x="40.9" y="742.29" font-size="10.3" text-anchor="end" fill="#000" stroke="#000" stroke-width="0.25" font-weight="bold">0</text>
<line x1="78.3" y1="738.6" x2="78.3" y2="741.9" stroke="#000" stroke-width="1.65"/>
<text x="78.3" y="753.5" font-size="11.55" text-anchor="middle" fill="#000" stroke="#000" stroke-width="0.25" font-weight="bold">CD103</text>
<line x1="139" y1="738.6" x2="139" y2="741.9" stroke="#000" stroke-width="1.65"/>
<text x="139" y="753.5" font-size="11.55" text-anchor="middle" fill="#000" stroke="#000" stroke-width="0.25" font-weight="bold">CCR9</text>
<line x1="200.3" y1="738.6" x2="200.3" y2="741.9" stroke="#000" stroke-width="1.65"/>
<text x="200.3" y="753.5" font-size="11.55" text-anchor="middle" fill="#000" stroke="#000" stroke-width="0.25" font-weight="bold">LPAM</text>
<text x="20.9" y="677.9" font-size="11.4" text-anchor="middle" fill="#000" stroke="#000" stroke-width="0.25" font-weight="bold" transform="rotate(-90 20.9 677.9)">Percentage</text>
<text x="140" y="660.24" font-size="12" text-anchor="middle" fill="#000" stroke="#000" stroke-width="0.25" font-weight="bold">*</text>
<text x="204.5" y="633.0" font-size="11.6" text-anchor="middle" fill="#000" stroke="#000" stroke-width="0.25" font-weight="bold" letter-spacing="1.5">***</text>
<text x="421.9" y="610.2" font-size="12.7" text-anchor="middle" fill="#000" stroke="#000" stroke-width="0.25" font-weight="bold">Total CD8</text>
<line x1="348.05" y1="734.6" x2="348.05" y2="734.4" stroke="#000" stroke-width="1.3"/>
<line x1="343.65000000000003" y1="734.4" x2="352.45" y2="734.4" stroke="#000" stroke-width="1.3"/>
<rect x="340.55" y="735.35" width="15.0" height="3.25" fill="#808080" stroke="#000" stroke-width="1.5"/>
<line x1="371.5" y1="733.6" x2="371.5" y2="733.4" stroke="#000" stroke-width="1.3"/>
<line x1="367.1" y1="733.4" x2="375.9" y2="733.4" stroke="#000" stroke-width="1.3"/>
<rect x="363.75" y="734.35" width="15.5" height="4.25" fill="#000" stroke="#000" stroke-width="1.5"/>
<line x1="409.25" y1="693.6" x2="409.25" y2="687.5" stroke="#000" stroke-width="1.3"/>
<line x1="404.85" y1="687.5" x2="413.65" y2="687.5" stroke="#000" stroke-width="1.3"/>
<rect x="401.45" y="694.35" width="15.6" height="44.25" fill="#808080" stroke="#000" stroke-width="1.5"/>
<line x1="432.55" y1="662.5" x2="432.55" y2="648.2" stroke="#000" stroke-width="1.3"/>
<line x1="428.15000000000003" y1="648.2" x2="436.95" y2="648.2" stroke="#000" stroke-width="1.3"/>
<rect x="424.55" y="663.25" width="16.0" height="75.35" fill="#000" stroke="#000" stroke-width="1.5"/>
<line x1="470.9" y1="666.2" x2="470.9" y2="657" stroke="#000" stroke-width="1.3"/>
<line x1="466.5" y1="657" x2="475.29999999999995" y2="657" stroke="#000" stroke-width="1.3"/>
<rect x="462.95" y="666.95" width="15.9" height="71.65" fill="#808080" stroke="#000" stroke-width="1.5"/>
<line x1="493.55" y1="691.4" x2="493.55" y2="686.4" stroke="#000" stroke-width="1.3"/>
<line x1="489.15000000000003" y1="686.4" x2="497.95" y2="686.4" stroke="#000" stroke-width="1.3"/>
<rect x="485.55" y="692.15" width="16.0" height="46.45" fill="#000" stroke="#000" stroke-width="1.5"/>
<line x1="329.7" y1="618.0749999999999" x2="329.7" y2="739.4250000000001" stroke="#000" stroke-width="1.65"/>
<line x1="328.875" y1="738.6" x2="512.5" y2="738.6" stroke="#000" stroke-width="1.65"/>
<line x1="326.2" y1="618.9" x2="329.7" y2="618.9" stroke="#000" stroke-width="1.65"/>
<text x="321.8" y="622.55" font-size="10.2" text-anchor="end" fill="#000" stroke="#000" stroke-width="0.25" font-weight="bold">2.0</text>
<line x1="326.2" y1="649" x2="329.7" y2="649" stroke="#000" stroke-width="1.65"/>
<text x="321.8" y="652.65" font-size="10.2" text-anchor="end" fill="#000" stroke="#000" stroke-width="0.25" font-weight="bold">1.5</text>
<line x1="326.2" y1="678.6" x2="329.7" y2="678.6" stroke="#000" stroke-width="1.65"/>
<text x="321.8" y="682.25" font-size="10.2" text-anchor="end" fill="#000" stroke="#000" stroke-width="0.25" font-weight="bold">1.0</text>
<line x1="326.2" y1="708.5" x2="329.7" y2="708.5" stroke="#000" stroke-width="1.65"/>
<text x="321.8" y="712.15" font-size="10.2" text-anchor="end" fill="#000" stroke="#000" stroke-width="0.25" font-weight="bold">0.5</text>
<line x1="326.2" y1="738.6" x2="329.7" y2="738.6" stroke="#000" stroke-width="1.65"/>
<text x="321.8" y="742.25" font-size="10.2" text-anchor="end" fill="#000" stroke="#000" stroke-width="0.25" font-weight="bold">0.0</text>
<line x1="360.2" y1="738.6" x2="360.2" y2="742.1" stroke="#000" stroke-width="1.65"/>
<text x="360.2" y="753.5" font-size="11.55" text-anchor="middle" fill="#000" stroke="#000" stroke-width="0.25" font-weight="bold">CD103</text>
<line x1="420.6" y1="738.6" x2="420.6" y2="742.1" stroke="#000" stroke-width="1.65"/>
<text x="420.6" y="753.5" font-size="11.55" text-anchor="middle" fill="#000" stroke="#000" stroke-width="0.25" font-weight="bold">CCR9</text>
<line x1="482" y1="738.6" x2="482" y2="742.1" stroke="#000" stroke-width="1.65"/>
<text x="482" y="753.5" font-size="11.55" text-anchor="middle" fill="#000" stroke="#000" stroke-width="0.25" font-weight="bold">LPAM</text>
<text x="301.3" y="678.5" font-size="11.3" text-anchor="middle" fill="#000" stroke="#000" stroke-width="0.25" font-weight="bold" transform="rotate(-90 301.3 678.5)">Cell number x 10<tspan font-size="7" dy="-4">6</tspan></text>
<text x="485.75" y="657.74" font-size="12" text-anchor="middle" fill="#000" stroke="#000" stroke-width="0.25" font-weight="bold">*</text>
</svg>
</body></html>
